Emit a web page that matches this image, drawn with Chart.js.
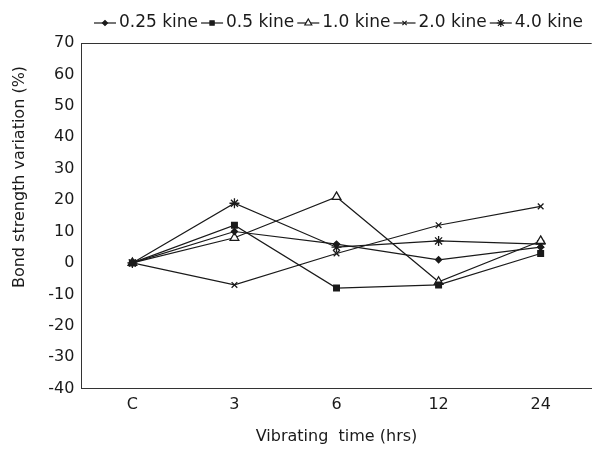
<!DOCTYPE html>
<html>
<head>
<meta charset="utf-8">
<script src="https://cdn.jsdelivr.net/npm/chart.js@4/dist/chart.umd.min.js"></script>
<style>
  html, body { margin: 0; padding: 0; background: #fff; overflow: hidden; }
  #wrap { width: 598px; height: 451px; }
</style>
</head>
<body>
<div id="wrap"><canvas id="chart"></canvas></div>
<script>
const categories = ["C", "3", "6", "12", "24"];
const seriesNames = ["0.25 kine", "0.5 kine", "1.0 kine", "2.0 kine", "4.0 kine"];
const kine025 = [0, 10, 6, 1, 5];
const kine05 = [0, 12, -8, -7, 3];
const kine10 = [0, 8, 21, -6, 7];
const kine20 = [0, -7, 3, 12, 18];
const kine40 = [0, 19, 5, 7, 6];
const yTicks = [70, 60, 50, 40, 30, 20, 10, 0, -10, -20, -30, -40];
const yTitle = 'Bond strength variation (%)';

document.addEventListener('DOMContentLoaded', function() {
    const ctx = document.getElementById('chart').getContext('2d');
    const ink = '#1a1a1a';
    const family = 'DejaVu Sans, Verdana, sans-serif';
    const font = { family: family, size: 16 };

    const styles = [
        { pointStyle: 'rectRot', radius: 3, fill: ink },
        { pointStyle: 'rect', radius: 4, fill: ink },
        { pointStyle: 'triangle', radius: 5, fill: '#fff' },
        { pointStyle: 'crossRot', radius: 4, fill: ink },
        { pointStyle: 'star', radius: 5, fill: ink }
    ];
    const values = [kine025, kine05, kine10, kine20, kine40];

    const datasets = values.map(function(v, i) {
        return {
            label: seriesNames[i],
            data: v,
            borderColor: ink,
            backgroundColor: styles[i].fill,
            borderWidth: 1.2,
            pointStyle: styles[i].pointStyle,
            pointRadius: styles[i].radius,
            pointBorderWidth: 1.3,
            pointBorderColor: ink,
            pointBackgroundColor: styles[i].fill,
            tension: 0
        };
    });

    // legend drawn by hand: short line with the marker in the middle, then the label
    // the y title is also drawn here, a bit above the centre like in the original
    const lineLegend = {
        id: 'lineLegend',
        afterDraw: function(chart) {
            const c = chart.ctx;
            let x = 94;
            const y = 23;
            c.save();
            c.font = '17px ' + family;
            c.textBaseline = 'middle';
            chart.data.datasets.forEach(function(ds) {
                c.strokeStyle = ink;
                c.lineWidth = 1.2;
                c.beginPath();
                c.moveTo(x, y);
                c.lineTo(x + 22, y);
                c.stroke();
                c.fillStyle = ds.pointBackgroundColor;
                Chart.helpers.drawPoint(c, {
                    pointStyle: ds.pointStyle,
                    radius: Math.max(2.5, ds.pointRadius - 1),
                    rotation: 0,
                    borderWidth: 1.1
                }, x + 11, y);
                c.fillStyle = ink;
                c.fillText(ds.label, x + 25, y);
                x += 25 + c.measureText(ds.label).width + 3;
            });

            c.font = '16px ' + family;
            c.textAlign = 'center';
            c.translate(20, 177);
            c.rotate(-Math.PI / 2);
            c.fillText(yTitle, 0, 0);
            c.restore();
        }
    };

    new Chart(ctx, {
        type: 'line',
        data: { labels: categories, datasets: datasets },
        plugins: [lineLegend],
        options: {
            responsive: true,
            maintainAspectRatio: false,
            animation: false,
            layout: { padding: { top: 43, right: 2, bottom: 5, left: 10 } },
            plugins: {
                legend: { display: false },
                tooltip: { enabled: false }
            },
            scales: {
                x: {
                    offset: true,
                    grid: { display: false, drawTicks: false },
                    border: { color: '#333', width: 1 },
                    ticks: { color: ink, font: font, padding: 7 },
                    title: { display: true, text: 'Vibrating  time (hrs)', color: ink, font: font, padding: { top: 5, bottom: 0 } }
                },
                y: {
                    min: -40,
                    max: 70,
                    afterBuildTicks: function(axis) {
                        axis.ticks = yTicks.map(function(t) { return { value: t }; });
                    },
                    grid: {
                        drawTicks: false,
                        color: function(c) { return c.tick && c.tick.value === 70 ? '#333' : 'transparent'; }
                    },
                    border: { color: '#333', width: 1 },
                    ticks: { color: ink, font: font, padding: 7 },
                    title: { display: true, text: yTitle, color: 'transparent', font: font, padding: { top: 0, bottom: 12 } }
                }
            }
        }
    });
});
</script>
</body>
</html>
